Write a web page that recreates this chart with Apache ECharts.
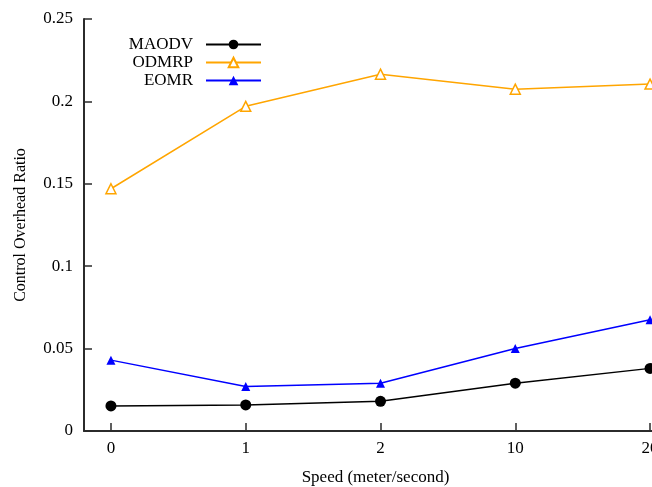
<!DOCTYPE html>
<html>
<head>
<meta charset="utf-8">
<script src="https://cdn.jsdelivr.net/npm/echarts@6/dist/echarts.min.js"></script>
<style>
  html, body { margin: 0; padding: 0; background: #fff; }
  #chart { width: 652px; height: 487px; }
</style>
</head>
<body>
<div id="chart"></div>
<script>
// Speed settings along the x axis
const speeds = ['0', '1', '2', '10', '20'];

// Control overhead ratio per protocol
const maodv = [0.0152, 0.0158, 0.018, 0.029, 0.038];
const odmrp = [0.147, 0.197, 0.2165, 0.2074, 0.2105];
const eomr  = [0.043, 0.027, 0.029, 0.050, 0.0675];

const yTicks = [0, 0.05, 0.1, 0.15, 0.2, 0.25];

const serif = '"Liberation Serif", "DejaVu Serif", serif';
const axisColor = '#2b2b2b';

function pts(values) {
  return values.map((v, i) => [i, v]);
}

const chart = echarts.init(document.getElementById('chart'), null, { renderer: 'canvas' });

// one legend block per row so the text stays right-aligned against the sample line
function legendRow(name, top) {
  return {
    data: [name],
    right: 390,
    top: top,
    orient: 'horizontal',
    align: 'right',
    itemWidth: 55,
    itemHeight: 12,
    itemGap: 0,
    padding: 0,
    selectedMode: false,
    textStyle: { fontFamily: serif, fontSize: 17, color: '#000', padding: [0, 8, 0, 0] }
  };
}

chart.setOption({
  animation: false,
  backgroundColor: '#fff',
  // the plot runs a little past the right edge of the canvas
  grid: { left: 84, top: 19, width: 593, height: 412, containLabel: false, outerBoundsMode: 'none' },
  legend: [
    legendRow('MAODV', 36),
    legendRow('ODMRP', 54),
    legendRow('EOMR', 72)
  ],
  xAxis: {
    type: 'value',
    min: -0.2,
    max: 4.2,
    name: 'Speed (meter/second)',
    nameLocation: 'middle',
    nameGap: 38,
    nameTextStyle: { fontFamily: serif, fontSize: 17, color: '#000', padding: [0, 10, 0, 0] },
    axisLine: { show: true, onZero: false, lineStyle: { color: axisColor, width: 2 } },
    axisTick: { show: true, inside: true, length: 8, customValues: [0, 1, 2, 3, 4], lineStyle: { color: axisColor, width: 1.5 } },
    axisLabel: {
      customValues: [0, 1, 2, 3, 4],
      formatter: v => speeds[Math.round(v)],
      fontFamily: serif, fontSize: 17, color: '#000', margin: 9
    },
    splitLine: { show: false }
  },
  yAxis: {
    type: 'value',
    min: 0,
    max: 0.25,
    interval: 0.05,
    name: 'Control Overhead Ratio',
    nameLocation: 'middle',
    nameGap: 55,
    nameTextStyle: { fontFamily: serif, fontSize: 16, color: '#000' },
    axisLine: { show: true, onZero: false, lineStyle: { color: axisColor, width: 2 } },
    axisTick: { show: true, inside: true, length: 8, lineStyle: { color: axisColor, width: 1.5 } },
    axisLabel: {
      formatter: v => {
        const t = yTicks.find(x => Math.abs(x - v) < 1e-9);
        return String(t !== undefined ? t : v);
      },
      fontFamily: serif, fontSize: 17, color: '#000', margin: 11
    },
    splitLine: { show: false }
  },
  series: [
    {
      name: 'MAODV',
      type: 'line',
      data: pts(maodv),
      symbol: 'circle',
      symbolSize: 11,
      color: '#000',
      lineStyle: { color: '#000', width: 1.5 },
      itemStyle: { color: '#000' }
    },
    {
      name: 'ODMRP',
      type: 'line',
      data: pts(odmrp),
      symbol: 'triangle',
      symbolSize: 10,
      color: '#ffa500',
      lineStyle: { color: '#ffa500', width: 1.5 },
      itemStyle: { color: '#fff', borderColor: '#ffa500', borderWidth: 1.5 }
    },
    {
      name: 'EOMR',
      type: 'line',
      data: pts(eomr),
      symbol: 'triangle',
      symbolSize: 9,
      color: '#0000ff',
      lineStyle: { color: '#0000ff', width: 1.5 },
      itemStyle: { color: '#0000ff' }
    }
  ]
});
</script>
</body>
</html>
